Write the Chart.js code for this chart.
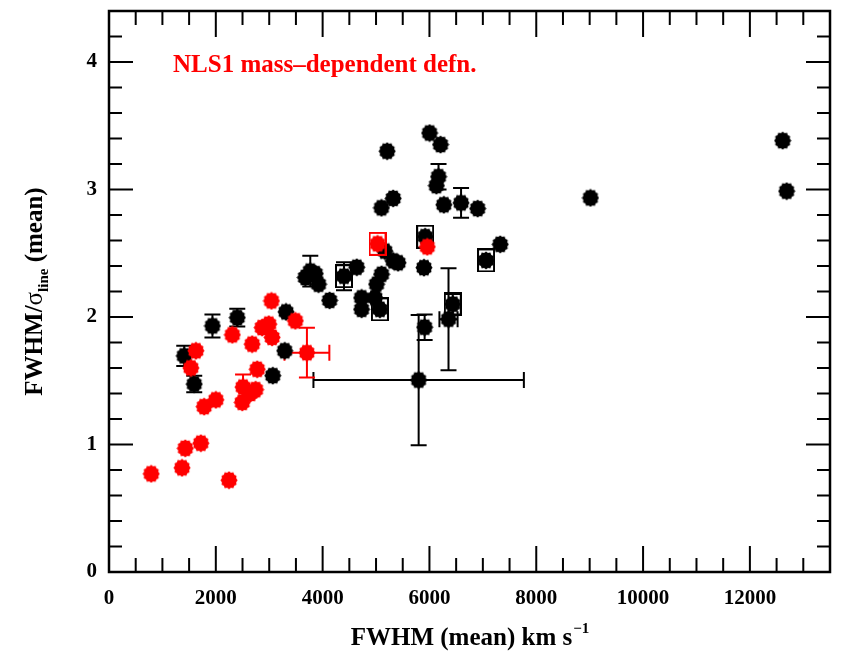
<!DOCTYPE html>
<html>
<head>
<meta charset="utf-8">
<script src="https://cdn.jsdelivr.net/npm/chart.js@4.4.1/dist/chart.umd.min.js"></script>
<style>
  html, body { margin: 0; padding: 0; background: #ffffff; }
  canvas { display: block; }
</style>
</head>
<body>
<canvas id="chart" width="854" height="668"></canvas>
<script>
/* =========================
   DATA
========================= */

// full sample (black)
const blackX    = [1409, 1596, 1937, 2402, 3067, 3290, 3315, 3676, 3769, 3862, 3923, 4130, 4400, 4640, 4730, 4730, 4980, 5010, 5072, 5103, 5165, 5320, 5413, 5102, 5320, 5208, 6003, 6208, 6170, 6130, 6270, 6592, 6903, 7325, 7060, 5920, 5897, 5910, 5798, 6357, 6437, 9015, 12613, 12688];
const blackY    = [1.695, 1.474, 1.93, 1.995, 1.54, 1.735, 2.04, 2.31, 2.36, 2.34, 2.257, 2.13, 2.32, 2.39, 2.15, 2.06, 2.15, 2.257, 2.06, 2.335, 2.517, 2.44, 2.425, 2.856, 2.93, 3.30, 3.443, 3.352, 3.10, 3.03, 2.88, 2.895, 2.85, 2.57, 2.444, 2.63, 2.387, 1.92, 1.505, 1.983, 2.10, 2.934, 3.383, 2.987];
const blackXErr = [0, 0, 0, 0, 0, 0, 0, 0, 0, 0, 0, 0, 0, 0, 0, 0, 0, 0, 0, 0, 0, 0, 0, 0, 0, 0, 0, 0, 0, 0, 0, 0, 0, 0, 0, 0, 0, 0, 1970, 170, 0, 0, 0, 0];
const blackYErr = [0.08, 0.065, 0.09, 0.07, 0, 0, 0, 0, 0.12, 0, 0, 0, 0.11, 0, 0, 0, 0, 0, 0, 0, 0, 0, 0, 0, 0, 0, 0, 0, 0.1, 0, 0, 0.117, 0, 0, 0, 0, 0, 0.1, 0.51, 0.40, 0.08, 0, 0, 0];

// boxed objects
const boxBlackX = [4400, 5072, 7060, 5920, 6437];
const boxBlackY = [2.32, 2.06, 2.444, 2.63, 2.10];

// NLS1, mass-dependent definition (red)
const redX    = [790, 1367, 1428, 1720, 2248, 1782, 2000, 2495, 2510, 2650, 2745, 2775, 1534, 1627, 2309, 2681, 2868, 2992, 3054, 3042, 3489, 3706, 5028, 5960];
const redY    = [0.77, 0.817, 0.97, 1.01, 0.72, 1.297, 1.35, 1.33, 1.45, 1.40, 1.43, 1.59, 1.60, 1.735, 1.86, 1.787, 1.917, 1.944, 1.84, 2.126, 1.97, 1.72, 2.574, 2.55];
const redXErr = [0, 0, 0, 0, 0, 0, 0, 0, 0, 0, 0, 0, 0, 0, 0, 0, 0, 0, 0, 0, 0, 420, 0, 0];
const redYErr = [0, 0, 0, 0, 0, 0, 0, 0, 0.1, 0, 0, 0, 0, 0, 0, 0, 0, 0, 0, 0, 0, 0.195, 0, 0];

const boxRedX = [5028];
const boxRedY = [2.574];

// axes
const xTicks = [0, 2000, 4000, 6000, 8000, 10000, 12000];
const yTicks = [0, 1, 2, 3, 4];
const xMin = 0, xMax = 13500, xMajor = 2000, xMinor = 500;
const yMin = 0, yMax = 4.4, yMajor = 1, yMinor = 0.2;

/* =========================
   MARKER IMAGES
========================= */

function makeBlob(color) {
    const c = document.createElement('canvas');
    c.width = 18;
    c.height = 19;
    const g = c.getContext('2d');
    g.fillStyle = color;
    g.beginPath();
    const n = 24;
    for (let i = 0; i < n; i++) {
        const a = i / n * Math.PI * 2;
        const r = i % 2 === 0 ? 1 : 0.86;
        const px = 9 + Math.cos(a) * 8.6 * r;
        const py = 9.5 + Math.sin(a) * 9.1 * r;
        if (i === 0) g.moveTo(px, py); else g.lineTo(px, py);
    }
    g.closePath();
    g.fill();
    return c;
}

function makeBox(color) {
    const c = document.createElement('canvas');
    c.width = 18;
    c.height = 24;
    const g = c.getContext('2d');
    g.strokeStyle = color;
    g.lineWidth = 2;
    g.strokeRect(1, 1, 16, 22);
    return c;
}

const toPoints = (xs, ys) => xs.map((v, i) => ({ x: v, y: ys[i] }));

/* =========================
   PLUGINS
========================= */

function drawErrors(ctx, sx, sy, xs, ys, xe, ye, color) {
    ctx.strokeStyle = color;
    ctx.beginPath();
    xs.forEach((v, i) => {
        const px = sx.getPixelForValue(v);
        const py = sy.getPixelForValue(ys[i]);
        if (ye[i] > 0) {
            const t = sy.getPixelForValue(ys[i] + ye[i]);
            const b = sy.getPixelForValue(ys[i] - ye[i]);
            ctx.moveTo(px, t); ctx.lineTo(px, b);
            ctx.moveTo(px - 8, t); ctx.lineTo(px + 8, t);
            ctx.moveTo(px - 8, b); ctx.lineTo(px + 8, b);
        }
        if (xe[i] > 0) {
            const l = sx.getPixelForValue(v - xe[i]);
            const r = sx.getPixelForValue(v + xe[i]);
            ctx.moveTo(l, py); ctx.lineTo(r, py);
            ctx.moveTo(l, py - 8); ctx.lineTo(l, py + 8);
            ctx.moveTo(r, py - 8); ctx.lineTo(r, py + 8);
        }
    });
    ctx.stroke();
}

const errorBars = {
    id: 'errorBars',
    beforeDatasetsDraw(chart) {
        const { ctx, scales: { x, y } } = chart;
        ctx.save();
        ctx.lineWidth = 2;
        drawErrors(ctx, x, y, blackX, blackY, blackXErr, blackYErr, '#000000');
        drawErrors(ctx, x, y, redX, redY, redXErr, redYErr, '#ff0000');
        ctx.restore();
    }
};

const frameTicks = {
    id: 'frameTicks',
    afterDraw(chart) {
        const { ctx, chartArea: a, scales: { x, y } } = chart;
        ctx.save();
        ctx.strokeStyle = '#000000';
        ctx.lineWidth = 2;
        ctx.beginPath();
        for (let v = xMin; v <= xMax; v += xMinor) {
            const px = x.getPixelForValue(v);
            const len = v % xMajor === 0 ? 26 : 14;
            ctx.moveTo(px, a.bottom); ctx.lineTo(px, a.bottom - len);
            ctx.moveTo(px, a.top); ctx.lineTo(px, a.top + len);
        }
        const steps = Math.round((yMax - yMin) / yMinor);
        for (let k = 0; k <= steps; k++) {
            const v = yMin + k * yMinor;
            const py = y.getPixelForValue(v);
            const major = Math.abs(v / yMajor - Math.round(v / yMajor)) < 1e-6;
            const len = major ? 24 : 13;
            ctx.moveTo(a.left, py); ctx.lineTo(a.left + len, py);
            ctx.moveTo(a.right, py); ctx.lineTo(a.right - len, py);
        }
        ctx.stroke();
        ctx.lineWidth = 2.5;
        ctx.strokeRect(a.left, a.top, a.right - a.left, a.bottom - a.top);
        ctx.restore();
    }
};

const titles = {
    id: 'titles',
    afterDraw(chart) {
        const { ctx, chartArea: a } = chart;
        const big = 'bold 25px "Liberation Serif"';
        const small = 'bold 15px "Liberation Serif"';
        ctx.save();
        ctx.fillStyle = '#000000';
        ctx.textBaseline = 'alphabetic';

        // x title with superscript
        ctx.font = big;
        const xMain = 'FWHM (mean) km s';
        const wMain = ctx.measureText(xMain).width;
        ctx.font = small;
        const wSup = ctx.measureText('\u22121').width;
        let sx = (a.left + a.right) / 2 - (wMain + wSup) / 2;
        ctx.font = big;
        ctx.fillText(xMain, sx, 645);
        ctx.font = small;
        ctx.fillText('\u22121', sx + wMain + 1, 633);

        // y title, rotated, with subscript
        ctx.translate(42, (a.top + a.bottom) / 2);
        ctx.rotate(-Math.PI / 2);
        ctx.font = big;
        const p1 = 'FWHM/';
        const sig = '\u03c3';
        const p3 = ' (mean)';
        const w1 = ctx.measureText(p1).width;
        ctx.font = '25px "Liberation Serif"';
        const w2 = ctx.measureText(sig).width;
        ctx.font = small;
        const wSub = ctx.measureText('line').width;
        ctx.font = big;
        const w3 = ctx.measureText(p3).width;
        let tx = -(w1 + w2 + wSub + w3) / 2;
        ctx.fillText(p1, tx, 0);
        tx += w1;
        ctx.font = '25px "Liberation Serif"';
        ctx.fillText(sig, tx, 0);
        tx += w2;
        ctx.font = small;
        ctx.fillText('line', tx, 6);
        tx += wSub;
        ctx.font = big;
        ctx.fillText(p3, tx, 0);
        ctx.restore();

        // annotation
        ctx.save();
        ctx.fillStyle = '#ff0000';
        ctx.font = big;
        ctx.fillText('NLS1 mass\u2013dependent defn.', 173, 72);
        ctx.restore();
    }
};

/* =========================
   CHART
========================= */

const tickFont = { family: '"Liberation Serif"', size: 21, weight: 'bold' };

new Chart(document.getElementById('chart').getContext('2d'), {
    type: 'scatter',
    data: {
        datasets: [
            {
                label: 'NLS1 boxed',
                data: toPoints(boxRedX, boxRedY),
                pointStyle: makeBox('#ff0000'),
                pointRadius: 9
            },
            {
                label: 'NLS1',
                data: toPoints(redX, redY),
                pointStyle: makeBlob('#ff0000'),
                pointRadius: 9
            },
            {
                label: 'boxed',
                data: toPoints(boxBlackX, boxBlackY),
                pointStyle: makeBox('#000000'),
                pointRadius: 9
            },
            {
                label: 'all',
                data: toPoints(blackX, blackY),
                pointStyle: makeBlob('#000000'),
                pointRadius: 9
            }
        ]
    },
    options: {
        responsive: false,
        animation: false,
        layout: {
            padding: { top: 11, right: 24, left: 0, bottom: 0 }
        },
        plugins: {
            legend: { display: false },
            tooltip: { enabled: false }
        },
        scales: {
            x: {
                type: 'linear',
                min: xMin,
                max: xMax,
                afterBuildTicks(scale) {
                    scale.ticks = xTicks.map(v => ({ value: v }));
                },
                afterFit(scale) {
                    scale.height = 96;
                    scale.paddingLeft = 0;
                    scale.paddingRight = 0;
                },
                grid: { display: false, drawTicks: false },
                border: { display: false },
                ticks: {
                    autoSkip: false,
                    maxRotation: 0,
                    padding: 14,
                    color: '#000000',
                    font: tickFont,
                    callback: v => String(v)
                }
            },
            y: {
                type: 'linear',
                min: yMin,
                max: yMax,
                afterBuildTicks(scale) {
                    scale.ticks = yTicks.map(v => ({ value: v }));
                },
                afterFit(scale) {
                    scale.width = 109;
                    scale.paddingTop = 0;
                    scale.paddingBottom = 0;
                },
                grid: { display: false, drawTicks: false },
                border: { display: false },
                ticks: {
                    autoSkip: false,
                    padding: 12,
                    color: '#000000',
                    font: tickFont,
                    callback: v => String(v)
                }
            }
        }
    },
    plugins: [errorBars, frameTicks, titles]
});
</script>
</body>
</html>
